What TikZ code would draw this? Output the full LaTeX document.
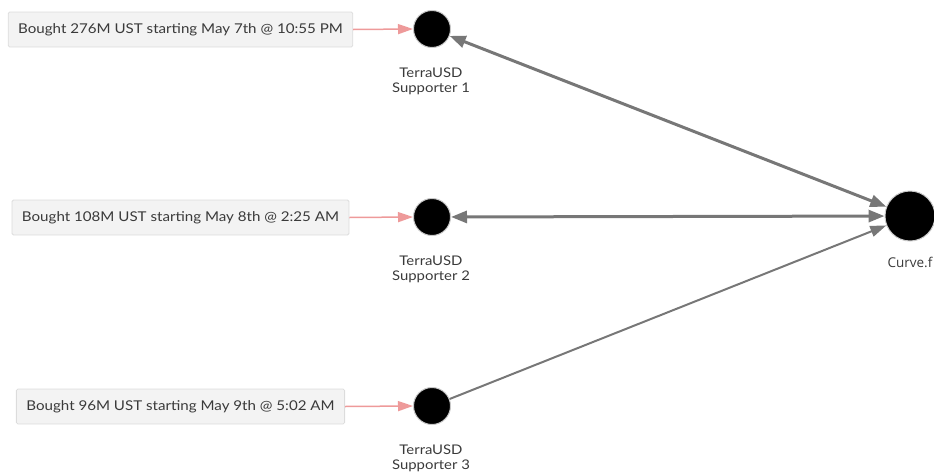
\documentclass[tikz,border=0pt]{standalone}
\usepackage{fontspec}
\setmainfont{Lato}[FakeStretch=1.12]
\newfontfamily\curvefont{Open Sans}
\usetikzlibrary{arrows.meta}
\definecolor{boxfill}{HTML}{F3F3F3}
\definecolor{boxline}{HTML}{DCDCDC}
\definecolor{pinkarrow}{HTML}{EE9A9A}
\definecolor{edgegrey}{HTML}{777777}
\definecolor{ringgrey}{HTML}{C8C8C8}
\definecolor{txt}{HTML}{3A3A3A}
\tikzset{
  infobox/.style={draw=boxline, fill=boxfill, rounded corners=1.5pt, line width=0.8pt,
    inner xsep=10pt, inner ysep=0pt, minimum height=35pt, text=txt, font=\fontsize{13.5}{16}\selectfont},
  dot/.style={circle, fill=black, draw=ringgrey, line width=1pt, minimum size=37pt, inner sep=0pt},
  bigdot/.style={circle, fill=black, draw=ringgrey, line width=1pt, minimum size=50pt, inner sep=0pt},
  lbl/.style={align=center, text=txt, font=\fontsize{13.3}{15}\selectfont},
  buy/.style={draw=pinkarrow, line width=1.5pt, -{Triangle[length=15pt,width=10pt]}},
  flowtwo/.style={draw=edgegrey, line width=3pt, {Triangle[length=16pt,width=12pt]}-{Triangle[length=16pt,width=12pt]}},
  flowone/.style={draw=edgegrey, line width=2pt, -{Triangle[length=16pt,width=11pt]}}
}
\begin{document}
\begin{tikzpicture}[x=1pt,y=-1pt]
\useasboundingbox (0,0) rectangle (934,474);
\node[infobox] (b1) at (180.5,29.5) {Bought 276M UST starting May 7th @ 10:55 PM};
\node[infobox] (b2) at (180.5,217.5) {Bought 108M UST starting May 8th @ 2:25 AM};
\node[infobox] (b3) at (180.5,406.5) {Bought 96M UST starting May 9th @ 5:02 AM};
\node[dot] (s1) at (432,29) {};
\node[dot] (s2) at (432,217) {};
\node[dot] (s3) at (432,406) {};
\node[bigdot] (c) at (910,216) {};
\node[lbl] (l1) at (431,81.5) {TerraUSD\\Supporter 1};
\node[lbl] (l2) at (431,269.5) {TerraUSD\\Supporter 2};
\node[lbl] (l3) at (431,458.5) {TerraUSD\\Supporter 3};
\node[text=txt, font=\curvefont\fontsize{13.5}{15}\selectfont, anchor=west] (lc) at (884,262) {Curve.f};
\draw[buy] (b1.east) -- (s1.west);
\draw[buy] (b2.east) -- (s2.west);
\draw[buy] (b3.east) -- (s3.west);
\draw[flowtwo] (s1) -- (c);
\draw[flowtwo] (s2) -- (c);
\draw[flowone] (s3) -- (c);
\end{tikzpicture}
\end{document}
